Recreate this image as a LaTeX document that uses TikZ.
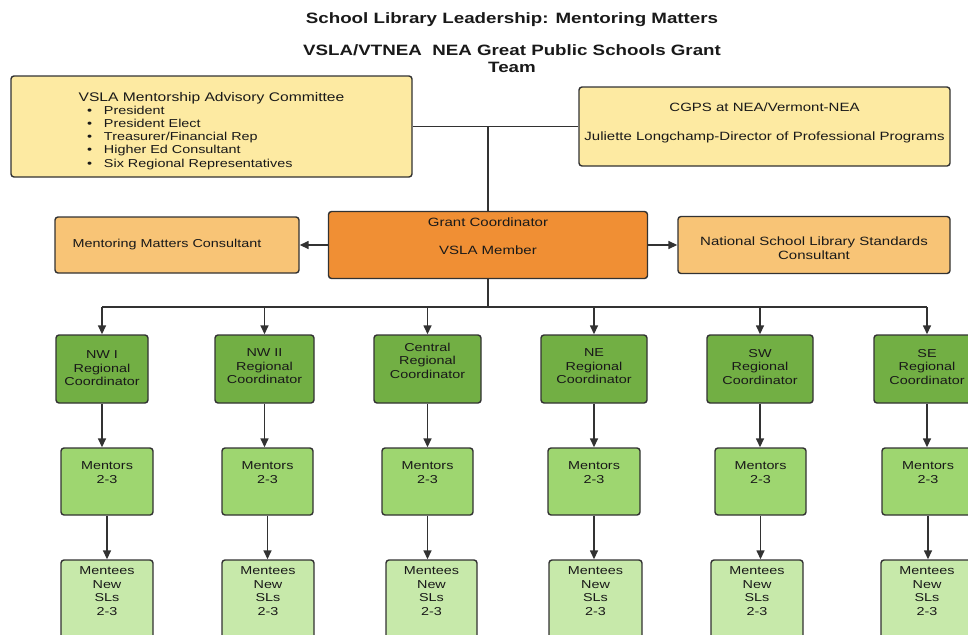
\documentclass[tikz,border=0pt]{standalone}
\usepackage{fontspec}
\setmainfont[FakeStretch=1.25]{Liberation Sans}
\usepackage{tikz}
\usetikzlibrary{arrows.meta}
\definecolor{edge}{RGB}{50,50,50}
\definecolor{advyellow}{RGB}{253,234,162}
\definecolor{gcorange}{RGB}{240,143,52}
\definecolor{consorange}{RGB}{248,196,118}
\definecolor{regdark}{RGB}{114,175,68}
\definecolor{mentgreen}{RGB}{158,214,112}
\definecolor{menteegreen}{RGB}{199,233,170}
\newcommand{\boxfont}{\fontsize{11.5}{13.5}\selectfont}
\newcommand{\topfont}{\fontsize{12}{14}\selectfont}
% 文字靠上的盒子: 高度, 宽度, 上边距, 内容
\newcommand{\celltxt}[4]{\parbox[c][#1][t]{#2}{\vspace*{#3}\centering #4}}
\tikzset{
  obox/.style={rectangle,rounded corners=3pt,draw=edge,line width=1.4pt,
               inner sep=0pt,text=black!90},
  advbox/.style={obox,fill=advyellow,minimum width=401pt,minimum height=101pt},
  gcbox/.style={obox,fill=gcorange,font=\topfont},
  consbox/.style={obox,fill=consorange},
  regbox/.style={obox,fill=regdark,font=\boxfont,minimum width=#1},
  regbox/.default=106pt,
  mentbox/.style={obox,fill=mentgreen,font=\boxfont,minimum width=#1},
  mentbox/.default=92pt,
  menteebox/.style={obox,fill=menteegreen,font=\boxfont,minimum width=#1},
  menteebox/.default=92pt,
  ttl/.style={font=\bfseries\fontsize{15}{17}\selectfont,text=black!90,align=center},
  line/.style={line width=1.5pt,draw=edge},
  arr/.style={-{Triangle[length=9pt,width=8pt]},line width=1.5pt,draw=edge},
}
\begin{document}
\begin{tikzpicture}[x=1pt,y=-1pt]
    \useasboundingbox (0,0) rectangle (968,634);
    \clip (0,0) rectangle (968,634);

    % 标题
    \node[ttl] (t1) at (512,19.5) {School Library Leadership: Mentoring Matters};
    \node[ttl] (t2) at (512,58.5) {VSLA/VTNEA\ \ NEA Great Public Schools Grant\\Team};

    % 顶层
    \node[advbox] (adv) at (211.5,126.5) {\parbox[c][101pt][t]{401pt}{\vspace*{16.5pt}%
        \centering\fontsize{12.5}{14}\selectfont VSLA Mentorship Advisory Committee\par
        \raggedright\fontsize{11.5}{13.1}\selectfont\leftskip=76pt
        \makebox[17pt][l]{\textbullet}President\\
        \makebox[17pt][l]{\textbullet}President Elect\\
        \makebox[17pt][l]{\textbullet}Treasurer/Financial Rep\\
        \makebox[17pt][l]{\textbullet}Higher Ed Consultant\\
        \makebox[17pt][l]{\textbullet}Six Regional Representatives}};
    \node[obox,fill=advyellow,font=\topfont] (cgps) at (764.5,126.5)
        {\celltxt{79pt}{371pt}{15.5pt}{CGPS at NEA/Vermont-NEA\\[15pt]Juliette Longchamp-Director of Professional Programs}};

    % 协调人与顾问
    \node[gcbox] (gc) at (488,245) {\celltxt{67pt}{319pt}{6.5pt}{Grant Coordinator\\[14pt]VSLA Member}};
    \node[consbox,font=\fontsize{11.5}{13.5}\selectfont,minimum width=244pt,minimum height=56pt] (mmc) at (177,245)
        {Mentoring Matters Consultant\hspace*{20pt}};
    \node[consbox,font=\topfont] (nat) at (814,245)
        {\celltxt{57pt}{272pt}{20.5pt}{National School Library Standards\\Consultant}};

    % 区域协调人
    \node[regbox=92pt] (r1) at (102,369) {\celltxt{68pt}{90pt}{16pt}{NW I\\Regional\\Coordinator}};
    \node[regbox=99pt] (r2) at (264.5,369) {\celltxt{68pt}{90pt}{14pt}{NW II\\Regional\\Coordinator}};
    \node[regbox=107pt] (r3) at (427.5,369) {\celltxt{68pt}{90pt}{8pt}{Central\\Regional\\Coordinator}};
    \node[regbox] (r4) at (594,369) {\celltxt{68pt}{90pt}{14pt}{NE\\Regional\\Coordinator}};
    \node[regbox] (r5) at (760,369) {\celltxt{68pt}{90pt}{14pt}{SW\\Regional\\Coordinator}};
    \node[regbox] (r6) at (927,369) {\celltxt{68pt}{90pt}{14pt}{SE\\Regional\\Coordinator}};

    % 导师
    \node[mentbox] (m1) at (107,481.5) {\celltxt{67pt}{88pt}{14pt}{Mentors\\2-3}};
    \node[mentbox=91pt] (m2) at (267.5,481.5) {\celltxt{67pt}{88pt}{14pt}{Mentors\\2-3}};
    \node[mentbox=91pt] (m3) at (427.5,481.5) {\celltxt{67pt}{88pt}{14pt}{Mentors\\2-3}};
    \node[mentbox] (m4) at (594,481.5) {\celltxt{67pt}{88pt}{14pt}{Mentors\\2-3}};
    \node[mentbox=91pt] (m5) at (760.5,481.5) {\celltxt{67pt}{88pt}{14pt}{Mentors\\2-3}};
    \node[mentbox] (m6) at (928,481.5) {\celltxt{67pt}{88pt}{14pt}{Mentors\\2-3}};

    % 学员
    \node[menteebox] (e1) at (107,605) {\celltxt{90pt}{88pt}{7pt}{Mentees\\New\\SLs\\2-3}};
    \node[menteebox] (e2) at (268,605) {\celltxt{90pt}{88pt}{7pt}{Mentees\\New\\SLs\\2-3}};
    \node[menteebox=91pt] (e3) at (431.5,605) {\celltxt{90pt}{88pt}{7pt}{Mentees\\New\\SLs\\2-3}};
    \node[menteebox=93pt] (e4) at (595.5,605) {\celltxt{90pt}{88pt}{7pt}{Mentees\\New\\SLs\\2-3}};
    \node[menteebox] (e5) at (757,605) {\celltxt{90pt}{88pt}{7pt}{Mentees\\New\\SLs\\2-3}};
    \node[menteebox] (e6) at (927,605) {\celltxt{90pt}{88pt}{7pt}{Mentees\\New\\SLs\\2-3}};

    % 连线
    \coordinate (bus) at (488,307);
    \draw[line] (adv) -- (cgps);
    \draw[line] (gc.north |- adv.east) -- (gc);
    \draw[arr] (gc) -- (mmc);
    \draw[arr] (gc) -- (nat);
    \draw[line] (gc) -- (bus);
    \draw[line] (bus -| r1) -- (bus -| r6);
    \draw[arr] (bus -| r1) -- (r1);
    \draw[arr] (bus -| r2) -- (r2);
    \draw[arr] (bus -| r3) -- (r3);
    \draw[arr] (bus -| r4) -- (r4);
    \draw[arr] (bus -| r5) -- (r5);
    \draw[arr] (bus -| r6) -- (r6);
    \draw[arr] (r1) -- (r1 |- m1.north);
    \draw[arr] (r2) -- (r2 |- m2.north);
    \draw[arr] (r3) -- (r3 |- m3.north);
    \draw[arr] (r4) -- (r4 |- m4.north);
    \draw[arr] (r5) -- (r5 |- m5.north);
    \draw[arr] (r6) -- (r6 |- m6.north);
    \draw[arr] (m1) -- (m1 |- e1.north);
    \draw[arr] (m2) -- (m2 |- e2.north);
    \draw[arr] (m3) -- (m3 |- e3.north);
    \draw[arr] (m4) -- (m4 |- e4.north);
    \draw[arr] (m5) -- (m5 |- e5.north);
    \draw[arr] (m6) -- (m6 |- e6.north);
\end{tikzpicture}
\end{document}
